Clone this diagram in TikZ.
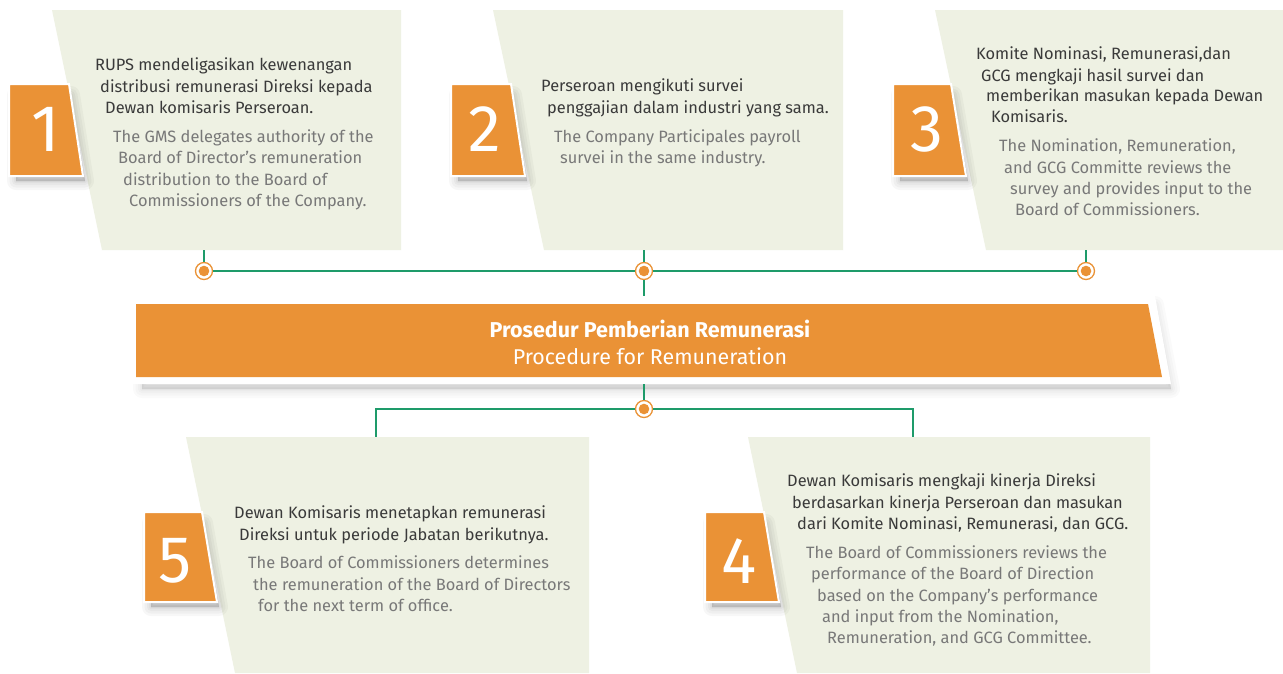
\documentclass[tikz,border=0pt]{standalone}
\usepackage{fontspec}
\setmainfont{Fira Sans}
\newfontfamily\numfont{Fira Sans}
\definecolor{panel}{HTML}{EEF1E3}
\definecolor{org}{HTML}{EA9236}
\definecolor{grn}{HTML}{1E9B6A}
\definecolor{idtxt}{HTML}{3A3A3A}
\definecolor{entxt}{HTML}{787878}
\newcommand\softshade[2]{%
  \foreach \w in {18,13,8,4,1}{%
    \path[fill=black, draw=black, opacity=#2, line width=\w pt, line join=round, xshift=2pt, yshift=-5pt] #1;}}
\begin{document}
\begin{tikzpicture}[x=1pt,y=-1pt,
  panelshape/.style={fill=panel},
  numbox/.style={fill=org, draw=white, line width=2pt, line join=miter},
  numtxt/.style={text=white, font=\numfont\fontsize{66}{66}\selectfont, inner sep=0},
  idline/.style={anchor=base west, inner sep=0, text=idtxt, font=\fontsize{16.4}{19}\selectfont},
  enline/.style={anchor=base west, inner sep=0, text=entxt, font=\fontsize{16.4}{19}\selectfont},
  link/.style={grn, line width=1.6pt},
  ring/.style={circle, draw=org, fill=white, line width=1.3pt, minimum size=17pt, inner sep=0},
  titletxt/.style={text=white, inner sep=0, anchor=base},
]
\useasboundingbox (0,0) rectangle (1283,673);
\fill[white] (0,0) rectangle (1283,673);

% panels
\path[panelshape] (52,10) -- (401,10) -- (401,250) -- (102,250) -- cycle;
\path[panelshape] (493,10) -- (843,10) -- (843,250) -- (544,250) -- cycle;
\path[panelshape] (935,10) -- (1283,10) -- (1283,250) -- (986,250) -- cycle;
\path[panelshape] (186,437) -- (589,437) -- (589,673) -- (235,673) -- cycle;
\path[panelshape] (748,437) -- (1150,437) -- (1150,673) -- (797,673) -- cycle;

% anchors of panels
\coordinate (b1) at (204,250);
\coordinate (b2) at (644,250);
\coordinate (b3) at (1086,250);
\coordinate (t5) at (376,437);
\coordinate (t4) at (913,437);

% banner
\softshade{(140,300) -- (1153,300) -- (1169,384) -- (140,384) -- cycle}{0.018}
\path[fill=white] (130,296) -- (1155,296) -- (1171,384) -- (130,384) -- cycle;
\path[fill=org] (136,304) -- (1148,304) -- (1162,377) -- (136,377) -- cycle;
\coordinate (bantop) at (644,296);
\coordinate (banbot) at (644,384);
\node[titletxt, font=\bfseries\fontsize{21.5}{24}\selectfont] (title1) at (650,337) {Prosedur Pemberian Remunerasi};
\node[titletxt, font=\fontsize{21.4}{24}\selectfont] (title2) at (650,364) {Procedure for Remuneration};

% connectors
\node[ring] (c1) at (204,271) {};
\node[ring] (c2) at (644,271) {};
\node[ring] (c3) at (1086,271) {};
\node[ring] (c4) at (644,409) {};
\coordinate (j5) at (376,409);
\coordinate (j4) at (913,409);
\draw[link] (b1) -- (c1);
\draw[link] (b2) -- (c2);
\draw[link] (b3) -- (c3);
\draw[link] (c1) -- (c2);
\draw[link] (c2) -- (c3);
\draw[link] (c2) -- (bantop);
\draw[link] (banbot) -- (c4);
\draw[link] (c4) -- (j5) -- (t5);
\draw[link] (c4) -- (j4) -- (t4);
\foreach \c in {c1,c2,c3,c4} \fill[org] (\c) circle (5.3pt);

% number boxes
\softshade{(14,90) -- (69,90) -- (83,176) -- (14,176) -- cycle}{0.03}
\softshade{(456,90) -- (511,90) -- (525,176) -- (456,176) -- cycle}{0.03}
\softshade{(898,90) -- (951,90) -- (966,176) -- (898,176) -- cycle}{0.03}
\softshade{(149,518) -- (202,518) -- (217,602) -- (149,602) -- cycle}{0.03}
\softshade{(710,518) -- (764,518) -- (779,602) -- (710,602) -- cycle}{0.03}
\path[numbox] (9,84) -- (69,84) -- (83,176) -- (9,176) -- cycle;
\path[numbox] (451,84) -- (511,84) -- (525,176) -- (451,176) -- cycle;
\path[numbox] (893,84) -- (951,84) -- (966,176) -- (893,176) -- cycle;
\path[numbox] (144,512) -- (202,512) -- (217,602) -- (144,602) -- cycle;
\path[numbox] (705,512) -- (764,512) -- (779,602) -- (705,602) -- cycle;
\node[numtxt] (n1) at (46,129) {1};
\node[numtxt] (n2) at (485,129) {2};
\node[numtxt] (n3) at (927,129) {3};
\node[numtxt] (n5) at (175,561) {5};
\node[numtxt] (n4) at (739,561) {4};

% panel 1 text
\node[idline] (p1a) at (95,70) {RUPS mendeligasikan kewenangan};
\node[idline] (p1b) at (100,92) {distribusi remunerasi Direksi kepada};
\node[idline] (p1c) at (105,113) {Dewan komisaris Perseroan.};
\node[enline] (p1d) at (113,142) {The GMS delegates authority of the};
\node[enline] (p1e) at (118,163) {Board of Director’s remuneration};
\node[enline] (p1f) at (123,185) {distribution to the Board of};
\node[enline] (p1g) at (129,206) {Commissioners of the Company.};

% panel 2 text
\node[idline] (p2a) at (541,91) {Perseroan mengikuti survei};
\node[idline] (p2b) at (547,113) {penggajian dalam industri yang sama.};
\node[enline] (p2c) at (554,142) {The Company Participales payroll};
\node[enline] (p2d) at (560,163) {survei in the same industry.};

% panel 3 text
\node[idline] (p3a) at (976,59) {Komite Nominasi, Remunerasi,dan};
\node[idline] (p3b) at (981,81) {GCG mengkaji hasil survei dan};
\node[idline] (p3c) at (986,101) {memberikan masukan kepada Dewan};
\node[idline] (p3d) at (991,122) {Komisaris.};
\node[enline] (p3e) at (999,151) {The Nomination, Remuneration,};
\node[enline] (p3f) at (1004,173) {and GCG Committe reviews the};
\node[enline] (p3g) at (1010,194) {survey and provides input to the};
\node[enline] (p3h) at (1015,215) {Board of Commissioners.};

% panel 5 text
\node[idline] (p5a) at (234,518) {Dewan Komisaris menetapkan remunerasi};
\node[idline] (p5b) at (239,540) {Direksi untuk periode Jabatan berikutnya.};
\node[enline] (p5c) at (248,568) {The Board of Commissioners determines};
\node[enline] (p5d) at (253,590) {the remuneration of the Board of Directors};
\node[enline] (p5e) at (258,611) {for the next term of office.};

% panel 4 text
\node[idline] (p4a) at (787,486) {Dewan Komisaris mengkaji kinerja Direksi};
\node[idline] (p4b) at (792,508) {berdasarkan kinerja Perseroan dan masukan};
\node[idline] (p4c) at (797,529) {dari Komite Nominasi, Remunerasi, dan GCG.};
\node[enline] (p4d) at (806,558) {The Board of Commissioners reviews the};
\node[enline] (p4e) at (811,579) {performance of the Board of Direction};
\node[enline] (p4f) at (817,601) {based on the Company’s performance};
\node[enline] (p4g) at (822,622) {and input from the Nomination,};
\node[enline] (p4h) at (827,643) {Remuneration, and GCG Committee.};
\end{tikzpicture}
\end{document}
